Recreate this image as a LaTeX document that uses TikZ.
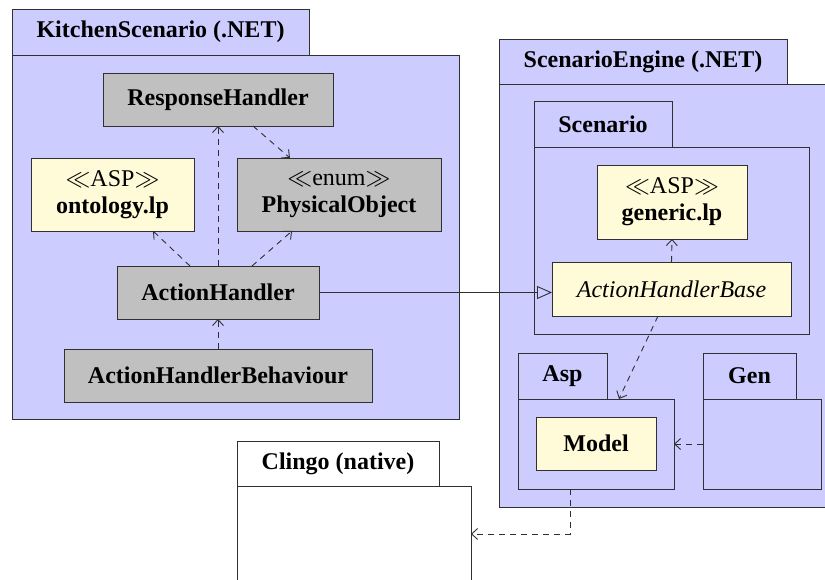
\documentclass[tikz,border=0pt]{standalone}
\usepackage{fontspec}
\setmainfont{Liberation Serif}
\newfontfamily\tnr{Liberation Serif}
\usetikzlibrary{arrows.meta,calc}
\definecolor{pkgc}{HTML}{CCCCFF}
\definecolor{gcls}{HTML}{C0C0C0}
\definecolor{ycls}{HTML}{FFFAD7}
\definecolor{lnc}{HTML}{303030}
\begin{document}
\begin{tikzpicture}[x=1pt,y=-1pt,
  every node/.style={inner sep=0pt, outer sep=0pt, anchor=north west, draw=lnc, line width=0.9pt, align=center, font=\tnr\fontsize{24}{27}\selectfont},
  pkgbox/.style={fill=pkgc},
  whitebox/.style={fill=white},
  gbox/.style={fill=gcls},
  ybox/.style={fill=ycls},
  lbl/.style={font=\tnr\fontsize{24}{27}\selectfont\bfseries},
  dep/.style={draw=lnc, line width=0.9pt, dash pattern=on 6pt off 5pt, -{Straight Barb[length=6pt,width=11pt]}},
  gen/.style={draw=lnc, line width=0.9pt, -{Triangle[open,length=15pt,width=13pt]}}
]
\useasboundingbox (0,0) rectangle (825,580);
\clip (0,0) rectangle (825,580);
% KitchenScenario package
\node[pkgbox, lbl, minimum width=297pt, minimum height=46pt] (kst) at (12,9) {KitchenScenario (.NET)};
\node[pkgbox, minimum width=447pt, minimum height=364pt] (ksb) at (12,55) {};
% ScenarioEngine package
\node[pkgbox, lbl, minimum width=288pt, minimum height=45pt] (set) at (499,39) {ScenarioEngine (.NET)};
\node[pkgbox, minimum width=340pt, minimum height=423pt] (seb) at (499,84) {};
% Scenario package
\node[pkgbox, lbl, minimum width=138pt, minimum height=46pt] (sct) at (534,101) {Scenario};
\node[pkgbox, minimum width=275pt, minimum height=187pt] (scb) at (534,147) {};
% Asp package
\node[pkgbox, lbl, minimum width=89pt, minimum height=46pt] (aspt) at (518,353) {Asp};
\node[pkgbox, minimum width=156pt, minimum height=90pt] (aspb) at (518,399) {};
% Gen package
\node[pkgbox, lbl, minimum width=93pt, minimum height=46pt] (gent) at (703,353) {Gen};
\node[pkgbox, minimum width=118pt, minimum height=90pt] (genb) at (703,399) {};
% Clingo package
\node[whitebox, lbl, minimum width=202pt, minimum height=45pt] (clt) at (237,441) {Clingo (native)};
\node[whitebox, minimum width=234pt, minimum height=120pt] (clb) at (237,486) {};
% classes
\node[gbox, lbl, minimum width=230pt, minimum height=53pt] (rh) at (103,73) {ResponseHandler};
\node[ybox, minimum width=163pt, minimum height=73pt] (onto) at (31,158) {$\ll$ASP$\gg$\\\textbf{ontology.lp}};
\node[gbox, minimum width=204pt, minimum height=73pt] (po) at (237,158) {$\ll$enum$\gg$\\\textbf{PhysicalObject}};
\node[gbox, lbl, minimum width=202pt, minimum height=53pt] (ah) at (117,266) {ActionHandler};
\node[gbox, lbl, minimum width=308pt, minimum height=53pt] (ahb) at (64,349) {ActionHandlerBehaviour};
\node[ybox, minimum width=150pt, minimum height=74pt] (genlp) at (597,165) {$\ll$ASP$\gg$\\\textbf{generic.lp}};
\node[ybox, minimum width=239pt, minimum height=54pt] (ahbase) at (552,262) {\itshape ActionHandlerBase};
\node[ybox, lbl, minimum width=120pt, minimum height=53pt] (model) at (536,417) {Model};
% connectors
\draw[dep] (ah.north) -- (rh.south);
\draw[dep] ($(ah.north)+(-28,0)$) -- ($(onto.south)+(40.5,0)$);
\draw[dep] ($(ah.north)+(34,0)$) -- ($(po.south)+(-47,0)$);
\draw[dep] ($(rh.south)+(35,0)$) -- ($(po.north)+(-49,0)$);
\draw[dep] (ahb.north) -- (ah.south);
\draw[gen] (ah.east) -- (ahbase.west |- ah.east);
\draw[dep] (ahbase.north) -- (genlp.south);
\draw[dep] ($(ahbase.south)+(-13.5,0)$) -- ($(aspb.north)+(23,0)$);
\draw[dep] (genb.west) -- (aspb.east);
\draw[dep] ($(aspb.south)+(-26,0)$) |- ($(clb.north east)+(0,48)$);
\end{tikzpicture}
\end{document}
